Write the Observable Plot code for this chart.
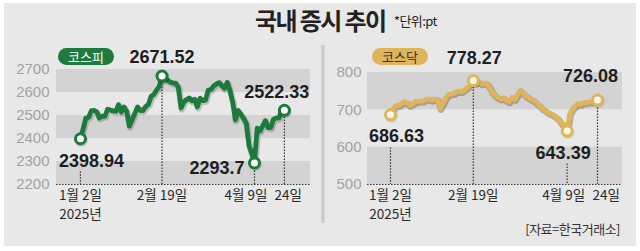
<!DOCTYPE html>
<html><head><meta charset="utf-8">
<script src="https://cdn.jsdelivr.net/npm/d3@7"></script>
<script src="https://cdn.jsdelivr.net/npm/@observablehq/plot@0.6"></script>
<style>
body{margin:0;background:#fff;}
#wrap{position:relative;width:640px;height:251px;background:#fff;overflow:hidden;font-family:"Liberation Sans","Noto Sans CJK KR",sans-serif;}
#bg{position:absolute;left:4px;top:3px;width:632px;height:243px;background:#e8e8e8;}
#title{position:absolute;left:255px;top:3px;white-space:nowrap;font-family:"Noto Sans CJK KR";font-weight:700;font-size:24px;letter-spacing:-1.6px;color:#222;line-height:34px;}
#unit{position:absolute;left:394px;top:11px;font-family:"Noto Sans CJK KR";font-size:13px;color:#222;letter-spacing:-0.6px;}
.badge{position:absolute;height:17px;line-height:17px;border-radius:9px;font-family:"Noto Sans CJK KR";font-size:13px;text-align:center;}
#src{position:absolute;right:20px;top:219px;font-family:"Noto Sans CJK KR";font-size:13px;color:#333;letter-spacing:-0.5px;}
#div{position:absolute;left:321px;top:45px;width:4px;height:178px;background:linear-gradient(to right,#d8d8d8,#c4c4c4,#dedede);}
.plot{position:absolute;top:0;}
</style></head>
<body>
<div id="wrap">
  <div id="bg"></div>
  <div id="title">국내 증시 추이</div>
  <div id="unit">*단위:pt</div>
  <div id="div"></div>
  <div id="left" class="plot" style="left:0"></div>
  <div id="right" class="plot" style="left:320px"></div>
  <div class="badge" style="left:58px;top:48px;width:56px;background:#1d7b3d;color:#fff;">코스피</div>
  <div class="badge" style="left:372px;top:48px;width:56px;background:#dfb55a;color:#333;">코스닥</div>
  <div id="src">[자료=한국거래소]</div>
</div>
<script>
// trading-day index 0 = 2025-01-02 ... 75 = 2025-04-24
const kospi = [2398.94,2441.92,2488.64,2492.10,2521.05,2521.90,2515.78,2489.56,2497.10,2496.78,
  2527.49,2523.55,2520.05,2518.03,2547.06,2515.36,2536.80,2517.37,2453.95,2481.69,
  2509.24,2536.75,2521.92,2521.27,2539.05,2548.39,2583.17,2591.05,2610.42,2626.81,
  2671.52,2654.58,2654.06,2645.27,2641.09,2641.00,2621.75,2532.78,2558.13,2569.00,
  2576.16,2563.48,2570.39,2537.60,2574.82,2565.00,2566.36,2610.69,2612.34,2628.62,
  2637.10,2643.13,2630.29,2618.00,2643.94,2607.15,2557.98,2481.12,2521.39,2505.86,
  2486.70,2465.42,2370.00,2334.23,2293.70,2445.06,2432.72,2453.54,2477.41,2447.30,
  2447.27,2483.42,2488.42,2489.42,2525.56,2522.33];
const kosdaq = [686.63,702.60,712.00,711.50,717.00,722.00,719.00,711.90,716.00,722.00,
  723.00,723.50,724.00,728.00,729.00,726.00,728.74,728.29,703.80,716.00,
  732.00,741.00,743.00,744.00,749.00,750.00,749.00,755.00,761.00,768.00,
  778.27,772.00,775.00,770.00,772.00,770.00,760.00,746.00,738.00,733.00,
  729.00,732.00,725.00,722.00,733.00,728.00,740.00,752.00,745.00,738.00,
  733.00,728.00,725.00,718.00,712.00,703.00,699.00,693.00,690.00,686.00,
  680.00,674.00,663.00,660.00,643.39,690.00,703.00,710.00,717.00,715.00,
  720.00,719.00,722.00,721.00,728.00,726.08];
const xTickIdx = [0, 30, 64, 75];
const xTickLabels = ["1월 2일\n2025년", "2월 19일", "4월 9일", "24일"];
const kospiYTicks = [2200, 2300, 2400, 2500, 2600, 2700];
const kosdaqYTicks = [500, 600, 700, 800];
const kospiBands = [[2600, 2700], [2400, 2500], [2200, 2300]];
const kosdaqBands = [[700, 800], [500, 600]];
const highlightIdx = [0, 30, 64, 75];

function chart(cfg) {
  const data = cfg.values.map((v, i) => ({i, v}));
  const pts = highlightIdx.map(i => ({i, v: cfg.values[i], label: String(cfg.values[i])}));
  const [x0, x1] = cfg.xDomain;
  const numFont = {fontFamily: "Liberation Sans", fontWeight: "bold", fontSize: 18, fill: "#1e1e1e"};
  const dotted = {stroke: "#333", strokeDasharray: "1.5,1.5", strokeWidth: 1.2};
  const marks = [
    Plot.rect(cfg.bands, {x1: () => x0, x2: () => x1, y1: d => d[0], y2: d => d[1], fill: "#d3d3d3"}),
    Plot.ruleY([cfg.yDomain[0]], dotted),
    Plot.ruleX(pts.filter((d, k) => !cfg.below[k]), {x: "i", y1: cfg.yDomain[0], y2: "v", ...dotted}),
    Plot.ruleX(pts.filter((d, k) => cfg.below[k]), {x: "i", y1: "v", y2: cfg.yDomain[0], ...dotted, insetTop: 33}),
    Plot.line(data, {x: "i", y: "v", stroke: cfg.shadow, strokeOpacity: cfg.shadowOpacity, strokeWidth: 6.5, dx: 0.8, dy: 1.3, strokeLinejoin: "round"}),
    Plot.line(data, {x: "i", y: "v", stroke: cfg.color, strokeWidth: 4.8, strokeLinejoin: "round", strokeLinecap: "round"}),
    Plot.dot(pts, {x: "i", y: "v", r: 6.5, fill: cfg.shadow, fillOpacity: 0.2, dx: 0.8, dy: 1.3}),
    Plot.dot(pts, {x: "i", y: "v", r: 5, fill: cfg.dotFill, stroke: cfg.color, strokeWidth: 3})
  ];
  pts.forEach((p, k) => {
    const o = cfg.labelPos[k];
    marks.push(Plot.text([p], {x: "i", y: "v", text: "label", textAnchor: o[0], dx: o[1], dy: o[2], ...numFont}));
  });
  xTickIdx.forEach((xi, k) => {
    const o = cfg.xLabelPos[k];
    marks.push(Plot.text([xTickLabels[k]], {x: () => xi, y: () => cfg.yDomain[0], text: d => d, textAnchor: o[0], dx: o[1], dy: 2,
      lineAnchor: "top", lineHeight: 1.4, fontFamily: "Noto Sans CJK KR", fontSize: 13.5, fill: "#2a2a2a", letterSpacing: -0.5}));
  });
  return Plot.plot({
    width: 320, height: 251,
    marginLeft: cfg.ml, marginRight: cfg.mr, marginTop: cfg.mt, marginBottom: 251 - cfg.yBase,
    style: {background: "transparent", fontFamily: "Liberation Sans", fontSize: "15px", color: "#a2a2a2", overflow: "visible"},
    x: {domain: cfg.xDomain, axis: null},
    y: {domain: cfg.yDomain, ticks: cfg.yTicks, tickSize: 0, tickPadding: cfg.tp, label: null, tickFormat: d => String(d)},
    marks
  });
}

document.getElementById("left").appendChild(chart({
  values: kospi, color: "#1c7b3c", dotFill: "#ffffff", shadow: "#000", shadowOpacity: 0.18,
  xDomain: [-8.8, 84.6], ml: 56, mr: 10, mt: 69, yBase: 184,
  yDomain: [2200, 2700], yTicks: kospiYTicks, bands: kospiBands, tp: 7,
  below: [true, false, false, false],
  labelPos: [["middle", 11, 22], ["middle", 0, -19], ["end", -10, 5], ["end", 25, -18]],
  xLabelPos: [["middle", 0], ["middle", 0], ["end", 13], ["start", -10]]
}));
document.getElementById("right").appendChild(chart({
  values: kosdaq, color: "#e0b45a", dotFill: "#fffbea", shadow: "#6b5020", shadowOpacity: 0.4,
  xDomain: [-8.33, 84.06], ml: 47, mr: 18, mt: 72, yBase: 184,
  yDomain: [500, 800], yTicks: kosdaqYTicks, bands: kosdaqBands, tp: 6,
  below: [true, false, true, false],
  labelPos: [["middle", 6, 21], ["middle", 1, -22], ["middle", -4, 22], ["middle", -7, -24]],
  xLabelPos: [["middle", 0], ["middle", 0], ["end", 18], ["start", -5]]
}));
</script>
</body></html>
